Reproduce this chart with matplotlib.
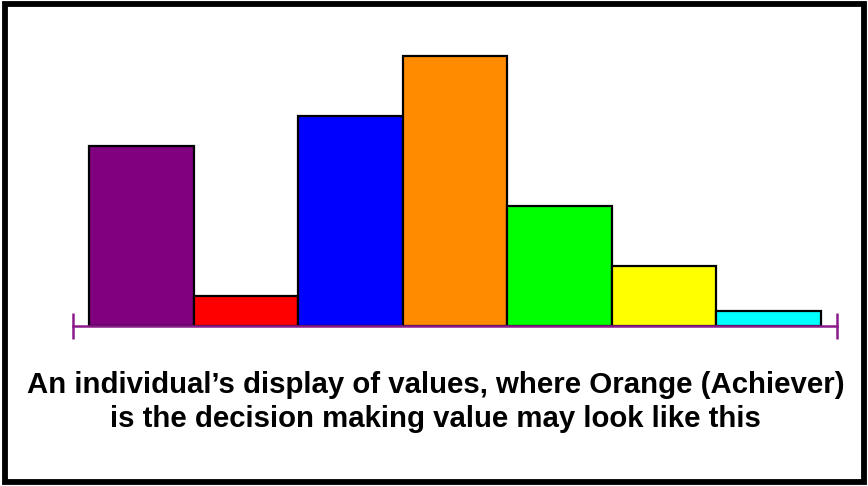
import matplotlib
matplotlib.use("Agg")
import matplotlib.pyplot as plt
from matplotlib.patches import Rectangle

plt.rcParams["font.family"] = ["Liberation Sans", "DejaVu Sans"]

values = [12, 2, 14, 18, 8, 4, 1]
colors = ["#800080", "#FF0000", "#0000FF", "#FF8C00", "#00FF00", "#FFFF00", "#00FFFF"]
caption = ["An individual\u2019s display of values, where Orange (Achiever)",
           "is the decision making value may look like this"]

W, H = 868, 486
fig = plt.figure(figsize=(W / 100, H / 100), dpi=100)

# frame round the whole slide
fig.patches.append(Rectangle((4.5 / W, 4 / H), (W - 8.5) / W, (H - 8.5) / H,
                             transform=fig.transFigure, fill=False,
                             edgecolor="black", lw=4.2, zorder=0))

ax = fig.add_axes([73 / W, (H - 326) / H, 764 / W, 272 / H])
x = range(len(values))
ax.bar(x, values, width=1.0, color=colors, edgecolor="black", lw=1.6, zorder=2)
pad = 0.153
ax.set_xlim(-0.5 - pad, len(values) - 0.5 + pad)
ax.set_ylim(0, 18 * 272 / 270)

for s in ["top", "left", "right"]:
    ax.spines[s].set_visible(False)
ax.spines["bottom"].set_color("#8B1A8B")
ax.spines["bottom"].set_linewidth(1.8)
ax.spines["bottom"].set_zorder(3)
ax.set_yticks([])
ax.set_xticks(ax.get_xlim())
ax.set_xticklabels([])
ax.tick_params(axis="x", direction="inout", length=19, width=1.8, color="#8B1A8B")

fig.text(436 / W, 1 - 393 / H, caption[0], ha="center", va="baseline",
         fontsize=21.2, fontweight="bold")
fig.text(435 / W, 1 - 427 / H, caption[1], ha="center", va="baseline",
         fontsize=21.2, fontweight="bold")

fig.savefig("out.png", dpi=100)
